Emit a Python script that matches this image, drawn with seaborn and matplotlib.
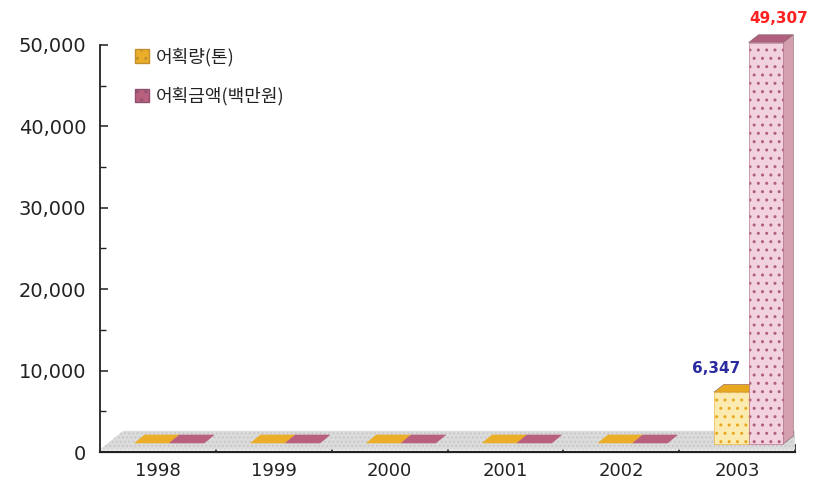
import numpy as np
import pandas as pd
import matplotlib
matplotlib.use("Agg")
import matplotlib.pyplot as plt
import seaborn as sns
from matplotlib.patches import Polygon, Patch
from matplotlib.ticker import FuncFormatter, MultipleLocator, FixedLocator

# ---- data ----
years = ["1998", "1999", "2000", "2001", "2002", "2003"]
catch_tons = [0, 0, 0, 0, 0, 6347]          # 어획량(톤)
catch_value = [0, 0, 0, 0, 0, 49307]        # 어획금액(백만원)
series_names = ["어획량(톤)", "어획금액(백만원)"]
value_labels = {(series_names[0], "2003"): "6,347", (series_names[1], "2003"): "49,307"}

df = pd.DataFrame({
    "year": years * 2,
    "value": catch_tons + catch_value,
    "series": [series_names[0]] * len(years) + [series_names[1]] * len(years),
})

# ---- style ----
sns.set_theme(style="white")
plt.rcParams["font.family"] = ["DejaVu Sans", "Noto Sans CJK KR"]

front_cols = ["#FCEBB0", "#F2D2DE"]
top_cols = ["#E8A820", "#B0607E"]
side_cols = ["#D9A040", "#D4A0B0"]
flat_cols = ["#EBAE28", "#B8607E"]
label_cols = ["#2B2BA0", "#FF2020"]

fig = plt.figure(figsize=(8.16, 4.91), dpi=100)
ax = fig.add_axes([100 / 816, 39 / 491, 695 / 816, 407 / 491])

sns.barplot(data=df, x="year", y="value", hue="series", order=years,
            hue_order=series_names, palette=front_cols, saturation=1,
            width=0.6, ax=ax, legend=False, edgecolor="#9a9a9a",
            linewidth=0.4, zorder=3)

ax.set_xlim(-0.5, 5.5)
ax.set_ylim(0, 50000)

# floor of the pseudo-3D chart
floor = Polygon([(-0.5, 300), (5.5, 300), (5.68, 2600), (-0.3, 2600)],
                closed=True, facecolor="#DCDCDC", edgecolor="#C8C8C8",
                linewidth=0, hatch="....", zorder=1)
ax.add_patch(floor)

base = 1000
shift = 0.1
dx = 0.085
dy = 950

patches = list(ax.patches)
bars = [p for p in patches if p is not floor]
n = len(years)
for i, p in enumerate(bars):
    s = i // n
    yr = years[i % n]
    x0 = p.get_x() + shift
    w = p.get_width()
    h = p.get_height()
    p.set_x(x0)
    p.set_y(base)
    p.set_clip_on(False)
    if h == 0:
        p.set_visible(False)
        flat = Polygon([(x0, base + 100), (x0 + w, base + 100),
                        (x0 + w + dx, base + 100 + dy * 1.05), (x0 + dx, base + 100 + dy * 1.05)],
                       closed=True, facecolor=flat_cols[s], edgecolor=flat_cols[s],
                       linewidth=0.3, hatch="...", zorder=2)
        ax.add_patch(flat)
        continue
    p.set_hatch("..")
    p.set_edgecolor(top_cols[s])
    top = base + h
    tp = Polygon([(x0, top), (x0 + w, top), (x0 + w + dx, top + dy), (x0 + dx, top + dy)],
                 closed=True, facecolor=top_cols[s], edgecolor="#806060",
                 linewidth=0.4, zorder=2.5, clip_on=False)
    sp = Polygon([(x0 + w, base), (x0 + w + dx, base + dy), (x0 + w + dx, top + dy), (x0 + w, top)],
                 closed=True, facecolor=side_cols[s], edgecolor="#806060",
                 linewidth=0.4, zorder=2.5, clip_on=False)
    ax.add_patch(tp)
    ax.add_patch(sp)
    key = (series_names[s], yr)
    if key in value_labels:
        if s == 0:
            lx = x0 + 0.02
        else:
            lx = x0 + w / 2 + dx + 0.02
        ax.text(lx, top + dy + 1050, value_labels[key], ha="center", va="bottom",
                fontsize=11, fontweight="bold", color=label_cols[s], clip_on=False,
                zorder=5)

# axes styling
for sp_name in ["top", "right"]:
    ax.spines[sp_name].set_visible(False)
for sp_name in ["left", "bottom"]:
    ax.spines[sp_name].set_color("#222222")
    ax.spines[sp_name].set_zorder(6)
ax.spines["left"].set_linewidth(1.3)
ax.spines["bottom"].set_linewidth(1.6)

ax.yaxis.set_major_locator(MultipleLocator(10000))
ax.yaxis.set_minor_locator(MultipleLocator(5000))
ax.yaxis.set_major_formatter(FuncFormatter(lambda v, _: f"{v:,.0f}"))
ax.xaxis.set_minor_locator(FixedLocator(np.arange(0.5, 6.0, 1.0)))
ax.tick_params(axis="y", which="major", direction="in", length=6, width=1.1,
               color="#222222", labelsize=14, labelcolor="#222222", pad=10, left=True)
ax.tick_params(axis="y", which="minor", direction="in", length=4, width=1.0,
               color="#222222", left=True)
ax.tick_params(axis="x", which="major", length=0, labelsize=13,
               labelcolor="#222222", pad=7)
ax.tick_params(axis="x", which="minor", direction="in", length=6, width=1.2,
               color="#222222", bottom=True)
ax.set_xlabel("")
ax.set_ylabel("")
ax.grid(False)

handles = [Patch(facecolor=flat_cols[0], edgecolor="#c09030", hatch="..", label=series_names[0]),
           Patch(facecolor=flat_cols[1], edgecolor="#905070", hatch="..", label=series_names[1])]
leg = ax.legend(handles=handles, loc="upper left", bbox_to_anchor=(0.035, 1.02),
                frameon=False, fontsize=13, handlelength=0.75, handleheight=0.75,
                handletextpad=0.4, labelspacing=1.15, borderaxespad=0.2)
for t in leg.get_texts():
    t.set_color("#222222")
    t.set_family(["Noto Sans CJK KR", "DejaVu Sans"])

fig.savefig("out.png", dpi=100)
